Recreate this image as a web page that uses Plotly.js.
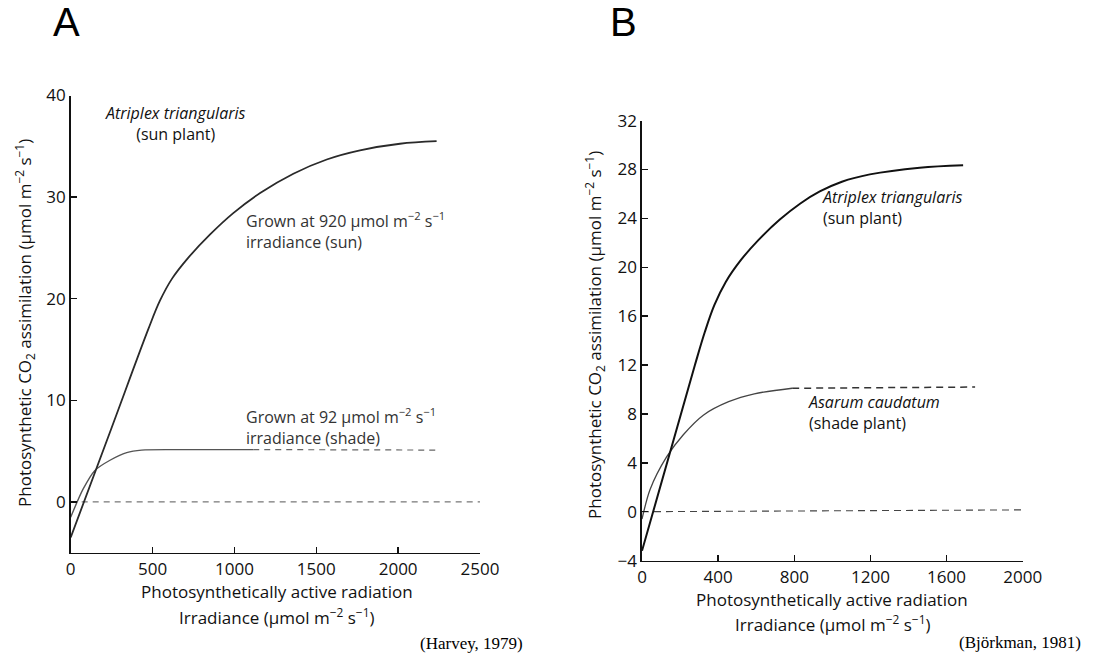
<!DOCTYPE html>
<html>
<head>
<meta charset="utf-8">
<script src="https://cdn.plot.ly/plotly-3.0.1.min.js"></script>
<style>html,body{margin:0;padding:0;background:#fff;}#chart{width:1105px;height:656px;}</style>
</head>
<body>
<div id="chart"></div>
<script>
// ---------- Panel A (Harvey, 1979): Atriplex triangularis grown in sun vs shade ----------
const sunA_x   = [0, 250, 474, 545, 620, 711, 850, 991, 1157, 1360, 1564, 1767, 2011, 2235];
const sunA_y   = [-3.5, 7.3, 17, 19.8, 22.0, 23.9, 26.3, 28.4, 30.4, 32.3, 33.7, 34.6, 35.25, 35.5];
const shadeA_x = [0, 77, 148, 240, 342, 433, 647, 1115];
const shadeA_y = [-1.5, 1.3, 3.1, 4.1, 4.85, 5.1, 5.15, 5.15];
const shadeA_dash_x = [1115, 2245];
const shadeA_dash_y = [5.15, 5.1];
const zeroA_x = [0, 2500];
const zeroA_y = [0, 0];
const xTicksA = [0, 500, 1000, 1500, 2000, 2500];
const yTicksA = [0, 10, 20, 30, 40];

// ---------- Panel B (Björkman, 1981): sun plant vs shade plant ----------
const sunB_x   = [0, 278, 330, 380, 440, 520, 610, 724, 830, 934, 1050, 1197, 1459, 1687];
const sunB_y   = [-3.2, 12, 14.7, 16.9, 18.8, 20.6, 22.2, 23.9, 25.2, 26.2, 27.0, 27.6, 28.15, 28.35];
const shadeB_x = [0, 42, 130, 217, 322, 455, 590, 789];
const shadeB_y = [-0.6, 1.8, 4.5, 6.3, 7.9, 9.0, 9.65, 10.1];
const shadeB_dash_x = [789, 1750];
const shadeB_dash_y = [10.1, 10.2];
const zeroB_x = [0, 2000];
const zeroB_y = [0, 0.15];
const xTicksB = [0, 400, 800, 1200, 1600, 2000];
const yTicksB = [-4, 0, 4, 8, 12, 16, 20, 24, 28, 32];

const W = 1105, H = 656;
const px = v => v / W;
const py = v => 1 - v / H;
const FONT = "Open Sans, Noto Sans, sans-serif";
const FS = 17;

const traces = [
  {x: zeroA_x, y: zeroA_y, xaxis: 'x', yaxis: 'y', mode: 'lines', line: {color: '#555', width: 1, dash: '6px,5px'}},
  {x: shadeA_x, y: shadeA_y, xaxis: 'x', yaxis: 'y', mode: 'lines', line: {color: '#555', width: 1.4, shape: 'spline', smoothing: 0.8}},
  {x: shadeA_dash_x, y: shadeA_dash_y, xaxis: 'x', yaxis: 'y', mode: 'lines', line: {color: '#666', width: 1.2, dash: '6px,5px'}},
  {x: sunA_x, y: sunA_y, xaxis: 'x', yaxis: 'y', mode: 'lines', line: {color: '#2a2a2a', width: 1.8, shape: 'spline', smoothing: 1}},

  {x: zeroB_x, y: zeroB_y, xaxis: 'x2', yaxis: 'y2', mode: 'lines', line: {color: '#444', width: 1.1, dash: '7px,5px'}},
  {x: shadeB_x, y: shadeB_y, xaxis: 'x2', yaxis: 'y2', mode: 'lines', line: {color: '#444', width: 1.3, shape: 'spline', smoothing: 0.8}},
  {x: shadeB_dash_x, y: shadeB_dash_y, xaxis: 'x2', yaxis: 'y2', mode: 'lines', line: {color: '#333', width: 1.5, dash: '7px,5px'}},
  {x: sunB_x, y: sunB_y, xaxis: 'x2', yaxis: 'y2', mode: 'lines', line: {color: '#111', width: 2, shape: 'spline', smoothing: 1}}
];

const axisCommon = {
  showgrid: false, zeroline: false, showline: true, linecolor: '#111', linewidth: 1.6,
  ticks: 'inside', ticklen: 6, tickwidth: 1.5, tickcolor: '#111',
  tickfont: {family: FONT, size: FS, color: '#111'}, fixedrange: true
};

function ann(text, x, y, opts) {
  return Object.assign({text: text, x: px(x), y: py(y), xref: 'paper', yref: 'paper', showarrow: false,
    xanchor: 'center', yanchor: 'middle', font: {family: FONT, size: FS, color: '#111'}}, opts || {});
}
const LBL = {family: FONT, size: 16, color: '#111'};
const GREY = {family: FONT, size: 16, color: '#333'};
const SERIF = {family: 'Liberation Serif, Times New Roman, serif', size: 17, color: '#000'};
const BIG = {family: 'Liberation Sans, Arial, sans-serif', size: 40, color: '#000'};
const UNIT = 'μmol m<sup>−2</sup> s<sup>−1</sup>';
const YTITLE = 'Photosynthetic CO<sub>2</sub> assimilation (' + UNIT + ')';

const layout = {
  width: W, height: H,
  margin: {l: 0, r: 0, t: 0, b: 0},
  paper_bgcolor: '#ffffff', plot_bgcolor: '#ffffff',
  showlegend: false,
  xaxis: Object.assign({}, axisCommon, {domain: [px(70.7), px(480)], range: [0, 2500], tickvals: xTicksA, anchor: 'y'}),
  yaxis: Object.assign({}, axisCommon, {domain: [py(552.7), py(95.5)], range: [-5, 40], tickvals: yTicksA, anchor: 'x'}),
  xaxis2: Object.assign({}, axisCommon, {domain: [px(642), px(1022.7)], range: [0, 2000], tickvals: xTicksB, anchor: 'y2'}),
  yaxis2: Object.assign({}, axisCommon, {domain: [py(560.6), py(120.6)], range: [-4, 32], tickvals: yTicksB,
    ticktext: yTicksB.map(v => v < 0 ? '\u2212' + Math.abs(v) : String(v)), anchor: 'x2'}),
  annotations: [
    ann('A', 66, 22, {font: BIG}),
    ann('B', 623, 22, {font: BIG}),
    // axis titles A
    ann(YTITLE, 24, 323, {textangle: -90}),
    ann('Photosynthetically active radiation', 276.5, 591),
    ann('Irradiance (' + UNIT + ')', 276.5, 616),
    // axis titles B
    ann(YTITLE, 595, 335, {textangle: -90}),
    ann('Photosynthetically active radiation', 832, 599),
    ann('Irradiance (' + UNIT + ')', 832, 623),
    // curve labels A
    ann('<i>Atriplex triangularis</i><br>(sun plant)', 175, 124, {font: LBL}),
    ann('Grown at 920 ' + UNIT + '<br>irradiance (sun)', 244, 230, {xanchor: 'left', align: 'left', font: GREY}),
    ann('Grown at 92 ' + UNIT + '<br>irradiance (shade)', 244, 426, {xanchor: 'left', align: 'left', font: GREY}),
    // curve labels B
    ann('<i>Atriplex triangularis</i><br>(sun plant)', 820, 207, {xanchor: 'left', align: 'left', font: LBL}),
    ann('<i>Asarum caudatum</i><br>(shade plant)', 806, 412, {xanchor: 'left', align: 'left', font: LBL}),
    // sources
    ann('(Harvey, 1979)', 525, 643, {xanchor: 'right', font: SERIF}),
    ann('(Björkman, 1981)', 1083, 642, {xanchor: 'right', font: SERIF})
  ]
};

Plotly.newPlot('chart', traces, layout, {displayModeBar: false, staticPlot: true});
</script>
</body>
</html>
